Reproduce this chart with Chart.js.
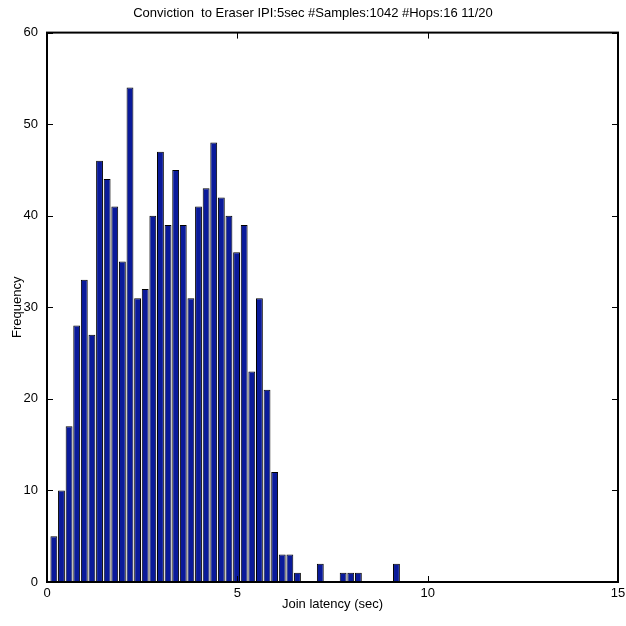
<!DOCTYPE html>
<html>
<head>
<meta charset="utf-8">
<script src="https://cdn.jsdelivr.net/npm/chart.js@4/dist/chart.umd.min.js"></script>
<style>
html,body{margin:0;padding:0;background:#fff;}
#wrap{width:626px;height:626px;}
</style>
</head>
<body>
<div id="wrap"><canvas id="c" width="626" height="626"></canvas></div>
<script>
const chartTitle = "Conviction  to Eraser IPI:5sec #Samples:1042 #Hops:16 11/20";
const xAxisLabel = "Join latency (sec)";
const yAxisLabel = "Frequency";
const binCenters = [0.18,0.38,0.58,0.78,0.98,1.18,1.38,1.58,1.78,1.98,
  2.18,2.38,2.58,2.78,2.98,3.18,3.38,3.58,3.78,3.98,
  4.18,4.38,4.58,4.78,4.98,5.18,5.38,5.58,5.78,5.98,
  6.18,6.38,6.58,7.18,7.78,7.98,8.18,9.18];
const counts = [5,10,17,28,33,27,46,44,41,35,
  54,31,32,40,47,39,45,39,31,41,
  43,48,42,40,36,39,23,31,21,12,
  3,3,1,2,1,1,1,2];
const xTicks = [0,5,10,15];
const yTicks = [0,10,20,30,40,50,60];

const FONT = "'Liberation Sans', Arial, sans-serif";

const boxTicks = {
  id: 'boxTicks',
  afterDraw(chart) {
    const {ctx, chartArea: a, scales: {x, y}} = chart;
    ctx.save();
    ctx.strokeStyle = '#000';
    ctx.lineWidth = 1;
    const L = 6;
    ctx.beginPath();
    xTicks.forEach(v => {
      const px = Math.round(x.getPixelForValue(v)) + 0.5;
      ctx.moveTo(px, a.bottom); ctx.lineTo(px, a.bottom - L);
      ctx.moveTo(px, a.top); ctx.lineTo(px, a.top + L);
    });
    yTicks.forEach(v => {
      const py = Math.round(y.getPixelForValue(v)) + 0.5;
      ctx.moveTo(a.left, py); ctx.lineTo(a.left + L, py);
      ctx.moveTo(a.right, py); ctx.lineTo(a.right - L, py);
    });
    ctx.stroke();
    ctx.lineWidth = 2;
    ctx.strokeRect(a.left, a.top, a.right - a.left, a.bottom - a.top);
    ctx.restore();
  }
};

new Chart(document.getElementById('c'), {
  type: 'bar',
  data: {
    datasets: [{
      data: binCenters.map((c, i) => ({x: c, y: counts[i]})),
      backgroundColor: '#0a1a9a',
      borderColor: '#000',
      borderWidth: 1,
      barPercentage: 0.9,
      categoryPercentage: 1.0
    }]
  },
  options: {
    responsive: false,
    animation: false,
    layout: {padding: {left: 0, right: 0, top: 0, bottom: 0}},
    plugins: {
      legend: {display: false},
      tooltip: {enabled: false},
      title: {
        display: true,
        text: chartTitle,
        color: '#000',
        font: {family: FONT, size: 13, weight: 'normal'},
        padding: {top: 6, bottom: 11}
      }
    },
    scales: {
      x: {
        type: 'linear',
        min: 0, max: 15,
        offset: false,
        grid: {display: false, drawTicks: false},
        border: {display: true, color: '#000', width: 2},
        afterBuildTicks(s) { s.ticks = xTicks.map(v => ({value: v})); },
        afterFit(s) { s.height = 44; s.paddingRight = 8; s.paddingLeft = 0; },
        ticks: {color: '#000', font: {family: FONT, size: 13}, padding: 4, maxRotation: 0},
        title: {display: true, text: xAxisLabel, color: '#000', font: {family: FONT, size: 13}, padding: {top: 2, bottom: 14}}
      },
      y: {
        min: 0, max: 60,
        grid: {display: false, drawTicks: false},
        border: {display: true, color: '#000', width: 2},
        afterBuildTicks(s) { s.ticks = yTicks.map(v => ({value: v})); },
        afterFit(s) { s.width = 47; },
        ticks: {color: '#000', font: {family: FONT, size: 13}, padding: 9},
        title: {display: true, text: yAxisLabel, color: '#000', font: {family: FONT, size: 13}, padding: {top: 10, bottom: 0}}
      }
    }
  },
  plugins: [boxTicks]
});
</script>
</body>
</html>
